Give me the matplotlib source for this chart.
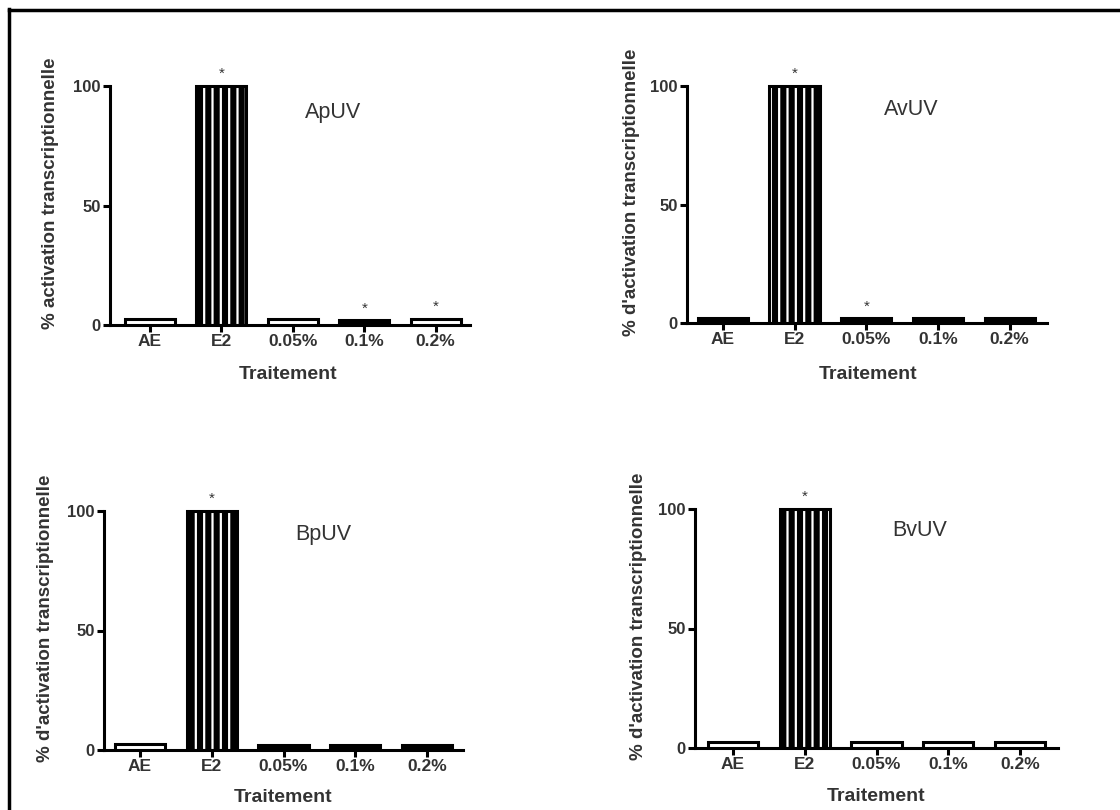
import matplotlib
matplotlib.use("Agg")
import matplotlib.pyplot as plt
from matplotlib.lines import Line2D

# Data
categories = ['AE', 'E2', '0.05%', '0.1%', '0.2%']

apuv = [2.5, 100, 2.5, 2.0, 2.5]
avuv = [2.0, 100, 2.0, 2.0, 2.0]
bpuv = [2.5, 100, 2.0, 2.0, 2.0]
bvuv = [2.5, 100, 2.5, 2.5, 2.5]

# fill of each bar: 'w' open, 'k' solid, 's' striped
apuv_fill = ['w', 's', 'w', 'k', 'w']
avuv_fill = ['k', 's', 'k', 'k', 'k']
bpuv_fill = ['w', 's', 'k', 'k', 'k']
bvuv_fill = ['w', 's', 'w', 'w', 'w']

apuv_star = [False, True, False, True, True]
avuv_star = [False, True, True, False, False]
bpuv_star = [False, True, False, False, False]
bvuv_star = [False, True, False, False, False]

plt.rcParams['font.family'] = ['Liberation Sans', 'DejaVu Sans']
plt.rcParams['hatch.linewidth'] = 1.6
TXT = '#333333'

fig = plt.figure(figsize=(11.2, 8.1), dpi=100)
W, H = 1120, 810

# panel layout in pixels: left, right, y of zero, y of 100, xlim, label pos
panels = [
    dict(name='ApUV', vals=apuv, fill=apuv_fill, star=apuv_star,
         left=110, right=470, y0=325, y100=86, xlim=(-0.56, 4.48),
         ylabel='% activation transcriptionnelle',
         ylab=(-0.142, 0.5), xlab=(0.494, -0.156), title=(2.57, 89)),
    dict(name='AvUV', vals=avuv, fill=avuv_fill, star=avuv_star,
         left=687, right=1047, y0=323, y100=86, xlim=(-0.50, 4.52),
         ylabel="% d'activation transcriptionnelle",
         ylab=(-0.131, 0.5), xlab=(0.503, -0.165), title=(2.63, 90)),
    dict(name='BpUV', vals=bpuv, fill=bpuv_fill, star=bpuv_star,
         left=104, right=463, y0=750, y100=511, xlim=(-0.50, 4.50),
         ylabel="% d'activation transcriptionnelle",
         ylab=(-0.139, 0.5), xlab=(0.50, -0.148), title=(2.56, 90)),
    dict(name='BvUV', vals=bvuv, fill=bvuv_fill, star=bvuv_star,
         left=695, right=1058, y0=748, y100=509, xlim=(-0.53, 4.53),
         ylabel="% d'activation transcriptionnelle",
         ylab=(-0.132, 0.5), xlab=(0.50, -0.152), title=(2.60, 91)),
]

YMAX = 110
for p in panels:
    ppu = (p['y0'] - p['y100']) / 100.0
    top = p['y0'] - YMAX * ppu
    ax = fig.add_axes([p['left'] / W, 1 - p['y0'] / H,
                       (p['right'] - p['left']) / W, (p['y0'] - top) / H])
    x = list(range(len(categories)))
    for i, (v, f) in enumerate(zip(p['vals'], p['fill'])):
        if f == 's':
            ax.bar(i, v, width=0.7, facecolor='black', edgecolor='white',
                   hatch='||', linewidth=0, zorder=2)
            ax.bar(i, v, width=0.7, fill=False, edgecolor='black',
                   linewidth=2.2, zorder=3)
        else:
            ax.bar(i, v, width=0.7, facecolor='white' if f == 'w' else 'black',
                   edgecolor='black', linewidth=2.2, zorder=3)
        if p['star'][i]:
            ax.text(i, v + 2.0, '*', ha='center', va='bottom',
                    fontsize=11, color=TXT)

    ax.set_xlim(*p['xlim'])
    ax.set_ylim(0, YMAX)
    for s in ['top', 'right']:
        ax.spines[s].set_visible(False)
    for s in ['left', 'bottom']:
        ax.spines[s].set_linewidth(2.2)
    ax.spines['left'].set_bounds(0, 100)
    ax.set_xticks(x)
    ax.set_xticklabels(categories, fontsize=12.5, fontweight='bold', color=TXT)
    ax.set_yticks([0, 50, 100])
    ax.set_yticklabels(['0', '50', '100'], fontsize=12, fontweight='bold', color=TXT)
    ax.tick_params(axis='both', direction='out', length=5, width=2.2, pad=1.5)
    ax.set_ylabel(p['ylabel'], fontsize=13.5, fontweight='bold', color=TXT)
    ax.yaxis.set_label_coords(*p['ylab'])
    ax.set_xlabel('Traitement', fontsize=14, fontweight='bold', color=TXT)
    ax.xaxis.set_label_coords(*p['xlab'])
    ax.xaxis.label.set_va('top')
    ax.text(p['title'][0], p['title'][1], p['name'], ha='center', va='center',
            fontsize=15.5, color=TXT)
    ax.patch.set_alpha(0)

# frame around the figure (left and top edges)
fig.add_artist(Line2D([9 / W, 9 / W], [0, 1 - 9 / H], color='black', lw=2.5))
fig.add_artist(Line2D([9 / W, 1], [1 - 10 / H, 1 - 10 / H], color='black', lw=2.5))

fig.savefig('out.png', dpi=100, facecolor='white')
